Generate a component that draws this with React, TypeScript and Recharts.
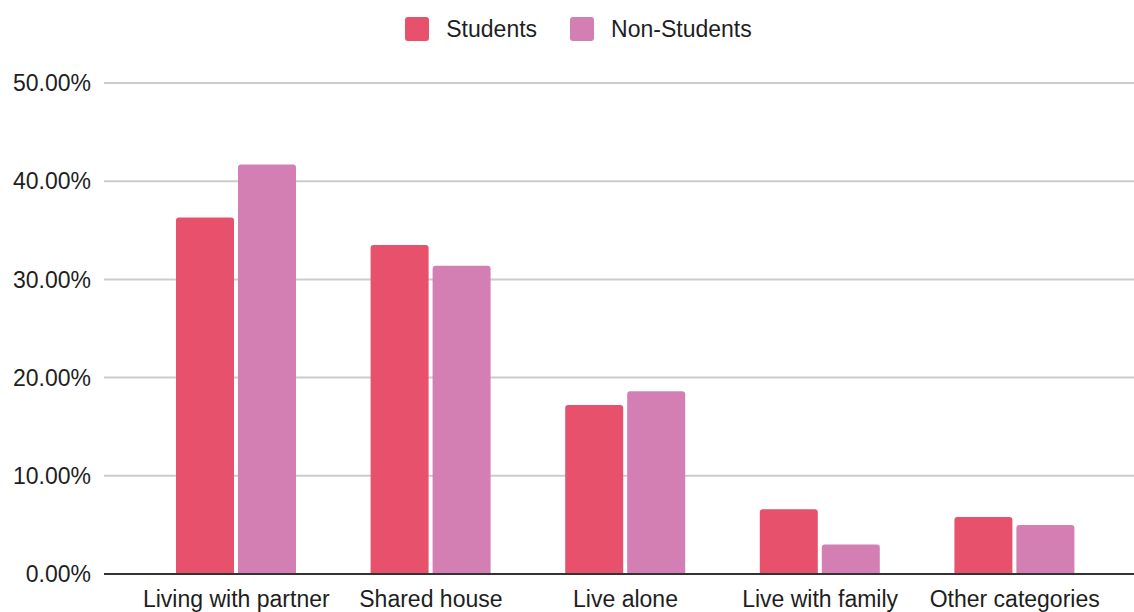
import { Bar, BarChart, CartesianGrid, Legend, XAxis, YAxis } from 'recharts';

const categories = ['Living with partner', 'Shared house', 'Live alone', 'Live with family', 'Other categories'];
const students = [36.3, 33.5, 17.2, 6.6, 5.8];
const nonStudents = [41.7, 31.4, 18.6, 3.0, 5.0];
const yTicks = [0, 10, 20, 30, 40, 50];

const STUDENT_COLOR = '#e8516c';
const NON_STUDENT_COLOR = '#d37fb3';
const FONT = '"Liberation Sans", Arial, sans-serif';

const data = categories.map((name, i) => ({
  name,
  students: students[i],
  nonStudents: nonStudents[i],
}));

const legendItems = [
  { label: 'Students', color: STUDENT_COLOR },
  { label: 'Non-Students', color: NON_STUDENT_COLOR },
];

function TopLegend() {
  return (
    <div
      style={{
        height: 83,
        display: 'flex',
        justifyContent: 'center',
        alignItems: 'flex-start',
        paddingTop: 17,
        paddingLeft: 23,
        boxSizing: 'border-box',
        fontFamily: FONT,
        fontSize: 23,
        color: '#1e1e1e',
      }}
    >
      {legendItems.map((item, i) => (
        <div key={item.label} style={{ display: 'flex', alignItems: 'center', marginLeft: i === 0 ? 0 : 33 }}>
          <span
            style={{
              width: 24,
              height: 24,
              borderRadius: 3,
              background: item.color,
              display: 'inline-block',
              marginRight: 17,
            }}
          />
          <span style={{ lineHeight: '24px' }}>{item.label}</span>
        </div>
      ))}
    </div>
  );
}

export default function App() {
  return (
    <div style={{ position: 'absolute', left: 0, top: 0, background: '#fff' }}>
      <BarChart
        width={1134}
        height={612}
        data={data}
        margin={{ top: 0, right: 0, bottom: 0, left: 0 }}
        barSize={58}
        barGap={4}
      >
        <CartesianGrid vertical={false} stroke="#cccccc" strokeWidth={2} />
        <Legend
          verticalAlign="top"
          align="center"
          content={() => <TopLegend />}
          wrapperStyle={{ top: 0, left: 0, width: 1134 }}
        />
        <XAxis
          dataKey="name"
          interval={0}
          height={38}
          padding={{ left: 35, right: 22 }}
          tickLine={false}
          tickSize={0}
          tickMargin={17}
          axisLine={{ stroke: '#333333', strokeWidth: 2 }}
          tick={{ fontFamily: FONT, fontSize: 23, fill: '#1e1e1e' }}
        />
        <YAxis
          width={104}
          domain={[0, 50]}
          ticks={yTicks}
          interval={0}
          axisLine={false}
          tickLine={false}
          tickSize={0}
          tickMargin={13}
          tickFormatter={(v: number) => `${v.toFixed(2)}%`}
          tick={{ fontFamily: FONT, fontSize: 23, fill: '#1e1e1e' }}
        />
        <Bar dataKey="students" name="Students" fill={STUDENT_COLOR} radius={[3, 3, 0, 0]} isAnimationActive={false} />
        <Bar
          dataKey="nonStudents"
          name="Non-Students"
          fill={NON_STUDENT_COLOR}
          radius={[3, 3, 0, 0]}
          isAnimationActive={false}
        />
      </BarChart>
    </div>
  );
}
